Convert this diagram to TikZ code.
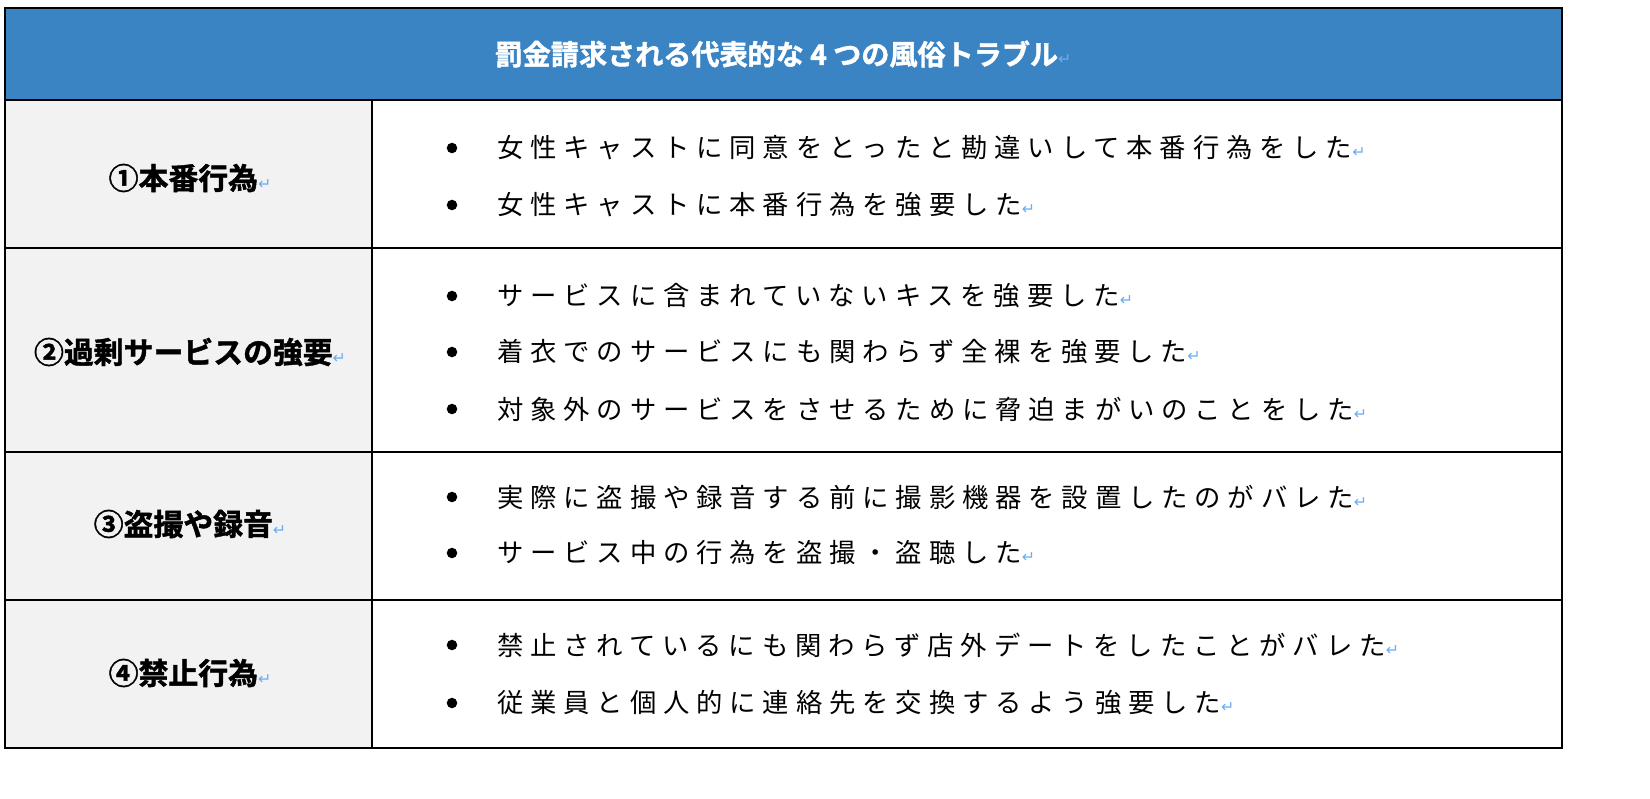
\documentclass[tikz,border=0pt]{standalone}
\usepackage{fontspec}
\newfontfamily\jp[LetterSpace=26]{Noto Sans CJK JP}
\newfontfamily\jpb[BoldFont=*,FakeBold=1.5]{Noto Sans CJK JP Bold}
\newfontfamily\sym{DejaVu Sans}
\definecolor{headblue}{HTML}{3A84C4}
\definecolor{labelgray}{HTML}{F2F2F2}
\definecolor{markblue}{HTML}{6AAEF0}
\tikzset{
  cell/.style = {draw = black, line width = 0.9pt},
  label/.style = {font = \jpb\fontsize{17}{17}\selectfont},
  item/.style = {anchor = west, font = \jp\fontsize{15}{15}\selectfont, inner sep = 0pt},
  dot/.style = {circle, fill = black, inner sep = 0pt, minimum size = 6pt}
}
\newcommand{\ret}{{\color{markblue}\sym\fontsize{9}{9}\selectfont ↵}}
\begin{document}
\begin{tikzpicture}[x = 0.02cm, y = -0.02cm]
    \useasboundingbox (0, 0) rectangle (1650, 798);
    % header
    \fill [headblue] (5, 8) rectangle (1562, 100);
    \draw [cell] (5, 8) rectangle (1562, 100);
    \node [label, text = white, font = \jpb\fontsize{16}{16}\selectfont] (head) at (783, 54) {罰金請求される代表的な 4 つの風俗トラブル\ret};
    % rows
    \fill [labelgray] (5, 100) rectangle (372, 748);
    \draw [cell] (5, 100) rectangle (1562, 748);
    \draw [cell] (372, 100) -- (372, 748);
    \foreach \y in {248, 452, 600}
        \draw [cell] (5, \y) -- (1562, \y);
    % left labels
    \node [label] (hon) at (190, 178) {①本番行為\ret};
    \node [label] (kaj) at (190, 352) {②過剰サービスの強要\ret};
    \node [label] (tou) at (190, 524) {③盗撮や録音\ret};
    \node [label] (kin) at (190, 673) {④禁止行為\ret};
    % items
    \foreach \y/\t [count = \i] in {
        148/女性キャストに同意をとったと勘違いして本番行為をした,
        205/女性キャストに本番行為を強要した,
        296/サービスに含まれていないキスを強要した,
        352/着衣でのサービスにも関わらず全裸を強要した,
        409/対象外のサービスをさせるために脅迫まがいのことをした,
        497/実際に盗撮や録音する前に撮影機器を設置したのがバレた,
        553/サービス中の行為を盗撮・盗聴した,
        645/禁止されているにも関わらず店外デートをしたことがバレた,
        703/従業員と個人的に連絡先を交換するよう強要した} {
        \node [dot] (b\i) at (452, \y) {};
        \node [item] (t\i) at (497, \y) {\t\ret};
    }
\end{tikzpicture}
\end{document}
